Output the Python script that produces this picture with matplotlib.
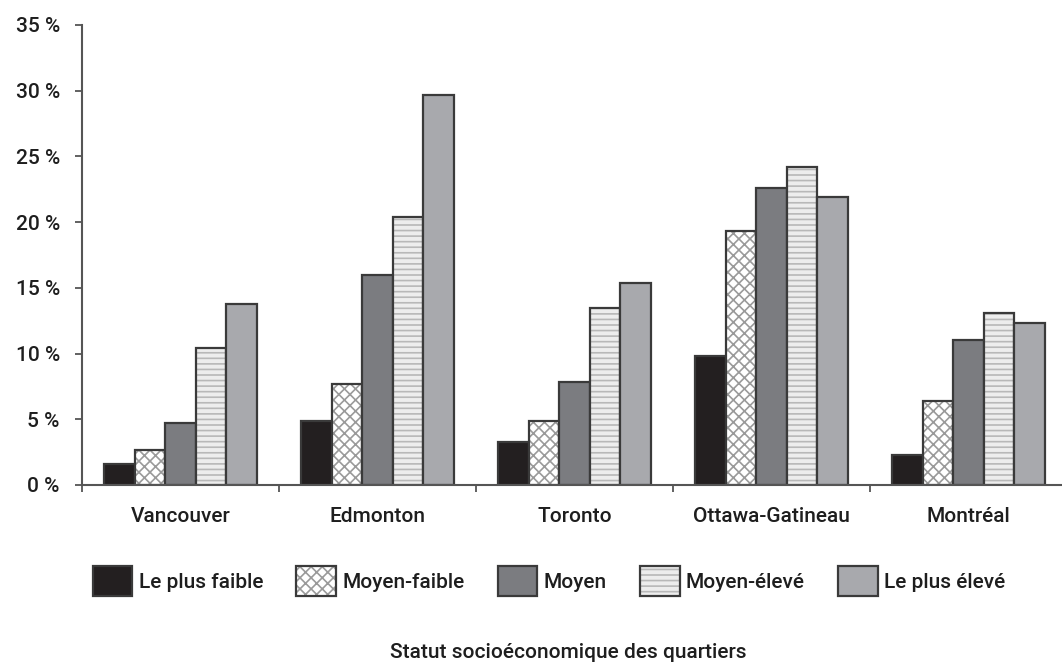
import numpy as np
import matplotlib
matplotlib.use("Agg")
import matplotlib.pyplot as plt
from matplotlib.patches import Patch

plt.rcParams['font.family'] = ['Roboto', 'DejaVu Sans']
plt.rcParams['font.weight'] = 'medium'
plt.rcParams['hatch.linewidth'] = 1.2

cities = ['Vancouver', 'Edmonton', 'Toronto', 'Ottawa-Gatineau', 'Montréal']
series_names = ['Le plus faible', 'Moyen-faible', 'Moyen', 'Moyen-élevé', 'Le plus élevé']

# percentages, one list per socioeconomic level
le_plus_faible = [1.6, 4.9, 3.3, 9.8, 2.3]
moyen_faible = [2.7, 7.7, 4.9, 19.3, 6.4]
moyen = [4.7, 16.0, 7.8, 22.6, 11.0]
moyen_eleve = [10.4, 20.4, 13.5, 24.2, 13.1]
le_plus_eleve = [13.8, 29.7, 15.4, 21.9, 12.3]

values = [le_plus_faible, moyen_faible, moyen, moyen_eleve, le_plus_eleve]
y_ticks = [0, 5, 10, 15, 20, 25, 30, 35]

# fill, hatch, hatch colour per series
styles = [
    ('#231f20', None, None),
    ('#ffffff', 'xxx', '#9a9a9a'),
    ('#7b7c80', None, None),
    ('#ededed', '---', '#b8b8b8'),
    ('#a8a9ad', None, None),
]
edge = '#3a3a3a'
txt = '#1e1e1e'

fig = plt.figure(figsize=(10.62, 6.64), dpi=100)
ax = fig.add_axes([82 / 1062, 1 - 485 / 664, 980 / 1062, 460 / 664])

x = np.arange(len(cities))
w = 0.155
handles = []
for i, vals in enumerate(values):
    fc, hatch, hc = styles[i]
    pos = x + (i - 2) * w
    if hatch:
        ax.bar(pos, vals, w, color=fc, hatch=hatch, edgecolor=hc, linewidth=0)
        ax.bar(pos, vals, w, fill=False, edgecolor=edge, linewidth=1.6)
        h = (Patch(facecolor=fc, hatch=hatch, edgecolor=hc, linewidth=0),
             Patch(fill=False, edgecolor=edge, linewidth=1.6))
    else:
        ax.bar(pos, vals, w, color=fc, edgecolor=edge, linewidth=1.6)
        h = Patch(facecolor=fc, edgecolor=edge, linewidth=1.6)
    handles.append(h)

ax.set_xlim(-0.5, -0.5 + 980 / 197)
ax.set_ylim(0, 35)
ax.set_yticks(y_ticks)
ax.set_yticklabels([f'{t} %' for t in y_ticks])
ax.set_xticks(x)
ax.set_xticklabels(cities)
ax.set_xticks(np.arange(len(cities)) - 0.5, minor=True)

for s in ['top', 'right']:
    ax.spines[s].set_visible(False)
for s in ['left', 'bottom']:
    ax.spines[s].set_color('#555555')
    ax.spines[s].set_linewidth(1.5)

ax.tick_params(axis='y', direction='out', length=5, width=1.3, color='#555555',
               labelsize=15, pad=11, labelcolor=txt)
ax.tick_params(axis='x', which='major', length=0, pad=16, labelsize=15,
               labelcolor=txt)
ax.tick_params(axis='x', which='minor', direction='out', length=5, width=1.3,
               color='#555555')

fig.legend(handles, series_names, loc='center', bbox_to_anchor=(549 / 1062, 1 - 581 / 664),
           ncol=5, frameon=False, fontsize=15, handlelength=1.9, handleheight=1.9,
           handletextpad=0.3, columnspacing=1.6, labelcolor=txt)

fig.text(568 / 1062, 1 - 652 / 664, 'Statut socioéconomique des quartiers',
         ha='center', va='center', fontsize=15, color=txt)

fig.savefig('out.png', dpi=100)
